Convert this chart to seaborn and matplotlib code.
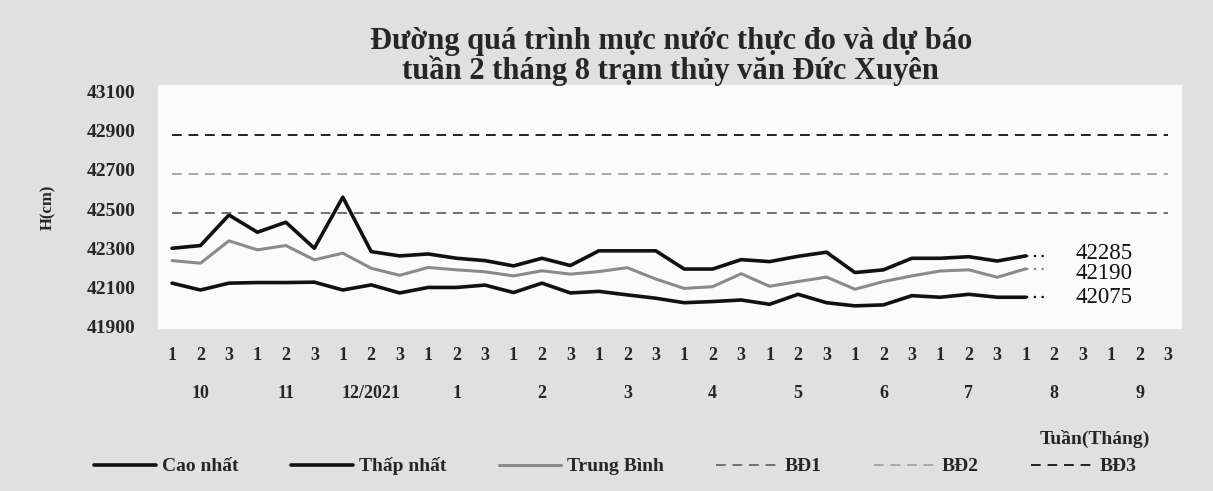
import matplotlib
matplotlib.use("Agg")
import matplotlib.pyplot as plt
import matplotlib.transforms as mtransforms
import seaborn as sns
import numpy as np
import pandas as pd

# months and weeks on the x axis
months = ["10", "11", "12/2021", "1", "2", "3", "4", "5", "6", "7", "8", "9"]
weeks = ["1", "2", "3"]

# observed water level (cm), week 1 of month 10 .. week 1 of month 8
cao_nhat = [42300, 42314, 42470, 42382, 42433, 42300, 42561, 42283, 42261, 42271,
            42249, 42237, 42210, 42249, 42212, 42287, 42287, 42287, 42194, 42194,
            42242, 42232, 42259, 42280, 42176, 42190, 42249, 42249, 42257, 42235, 42261]
trung_binh = [42237, 42224, 42338, 42292, 42314, 42241, 42275, 42198, 42162, 42202,
              42190, 42180, 42159, 42185, 42168, 42181, 42201, 42143, 42095, 42104,
              42170, 42106, 42130, 42153, 42091, 42130, 42159, 42184, 42190, 42152, 42195]
thap_nhat = [42122, 42087, 42122, 42125, 42125, 42127, 42087, 42113, 42072, 42100,
             42100, 42112, 42074, 42122, 42072, 42080, 42062, 42045, 42022, 42028,
             42036, 42014, 42065, 42022, 42006, 42011, 42058, 42050, 42065, 42050, 42050]

# forecast for week 2 of month 8
du_bao = {"Cao nhất": 42285, "Trung Bình": 42190, "Thấp nhất": 42075}

# alarm levels
bao_dong = {"BĐ1": 42480, "BĐ2": 42680, "BĐ3": 42880}

y_ticks = [41900, 42100, 42300, 42500, 42700, 42900, 43100]

sns.set_style("white")
plt.rcParams["font.family"] = ["Liberation Serif", "DejaVu Serif"]
plt.rcParams["font.weight"] = "bold"

fig = plt.figure(figsize=(12.13, 4.91), dpi=100)
fig.patch.set_facecolor("#e0e0e0")
ax = fig.add_axes([0.1301, 0.330, 0.8445, 0.497])
ax.set_facecolor("#fbfbfb")

n_cat = len(months) * len(weeks)
x_all = np.arange(n_cat)
x_obs = np.arange(len(cao_nhat))

df = pd.DataFrame({"x": x_obs, "Cao nhất": cao_nhat,
                   "Thấp nhất": thap_nhat, "Trung Bình": trung_binh})

series_style = [("Cao nhất", "#111111", 2.6),
                ("Thấp nhất", "#111111", 2.6),
                ("Trung Bình", "#8a8a8a", 2.2)]
for name, col, lw in series_style:
    sns.lineplot(data=df, x="x", y=name, ax=ax, color=col, lw=lw, label=name)

bd_style = {"BĐ1": "#707070", "BĐ2": "#a8a8a8", "BĐ3": "#222222"}
for name, level in bao_dong.items():
    ax.plot(x_all, [level] * n_cat, color=bd_style[name], lw=1.4,
            dashes=(5, 3.5), label=name)

# dotted lead from last observation to the forecast values
last_x = x_obs[-1]
label_shift = {"Cao nhất": 2, "Trung Bình": -3, "Thấp nhất": 0}
for name, col, lw in series_style:
    last_y = df[name].iloc[-1]
    ax.plot([last_x, last_x + 0.75], [last_y, last_y], color=col, lw=1.6,
            ls=(0, (1, 2.5)))
    ax.annotate(str(du_bao[name]), (last_x + 1.75, last_y),
                xytext=(0, label_shift[name]), textcoords="offset points",
                fontsize=16.5, fontweight="normal", va="center", ha="left",
                color="#111111")

ax.set_xlim(-0.5, n_cat - 0.5)
ax.set_ylim(41888, 43134)
ax.set_yticks(y_ticks)
ax.set_yticklabels([str(v) for v in y_ticks], fontsize=14, fontweight="bold")
ax.set_xticks(x_all)
ax.set_xticklabels(weeks * len(months), fontsize=13, fontweight="bold")
ax.tick_params(axis="x", length=0, pad=13)
ax.tick_params(axis="y", length=0, pad=16)
for s in ax.spines.values():
    s.set_visible(False)
ax.set_xlabel("")
ax.set_ylabel("H(cm)", fontsize=12, fontweight="bold", labelpad=22)

# month labels under the week labels
trans = mtransforms.blended_transform_factory(ax.transData, ax.transAxes)
for i, m in enumerate(months):
    ax.text(i * len(weeks) + 1, -0.265, m, transform=trans, ha="center",
            va="center", fontsize=13, fontweight="bold")

ax.text(0.915, -0.45, "Tuần(Tháng)", transform=ax.transAxes, ha="center",
        va="center", fontsize=14, fontweight="bold")

fig.suptitle("Đường quá trình mực nước thực đo và dự báo\n"
             "tuần 2 tháng 8 trạm thủy văn Đức Xuyên",
             x=0.553, y=0.945, fontsize=22, fontweight="bold", linespacing=0.97)

handles, labels = ax.get_legend_handles_labels()
if ax.get_legend():
    ax.get_legend().remove()
fig.legend(handles, labels, ncol=6, loc="center", bbox_to_anchor=(0.507, 0.05),
           frameon=False, fontsize=14, handlelength=3.2, columnspacing=2.7,
           handletextpad=0.3)

fig.savefig("out.png", dpi=100, facecolor=fig.get_facecolor())
